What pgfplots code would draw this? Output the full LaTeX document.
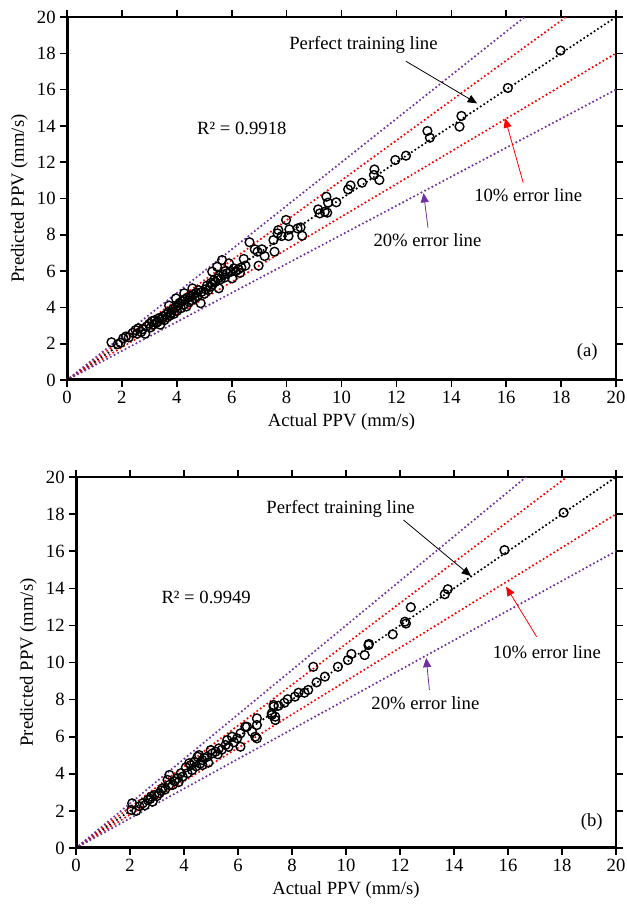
\documentclass[border=0pt]{standalone}
\usepackage{fontspec}
\setmainfont{Liberation Serif}
\usepackage{pgfplots}
\pgfplotsset{compat=1.18}
\usetikzlibrary{arrows.meta}
\definecolor{ppurple}{RGB}{112,48,160}
\definecolor{pblue}{RGB}{68,114,196}
\newcommand{\fs}{\fontsize{14}{16.5}\selectfont}
\pgfplotsset{
  ppv/.style={
    scale only axis,
    anchor=south west,
    xmin=0, xmax=20, ymin=0, ymax=20,
    xtick={0,2,...,20}, ytick={0,2,...,20},
    tick align=outside, major tick length=5pt,
    tick style={black, line width=1.2pt},
    axis line style={line width=1.2pt},
    /pgf/number format/assume math mode=true,
    tick label style={font=\fs},
    label style={font=\fs},
    xlabel={Actual PPV (mm/s)},
    ylabel={Predicted PPV (mm/s)},
    clip=true,
  },
  dotl/.style={line width=1.8pt, line cap=round, dash pattern=on 0pt off 3.1pt, no markers},
  pts/.style={only marks, mark=o, mark size=3.3pt, mark options={line width=1.05pt, black}},
}
\begin{document}
\begin{tikzpicture}
\useasboundingbox (0,0) rectangle (470.25pt,-681pt);
% ---------------- (a) ----------------
\begin{axis}[ppv, at={(50.25pt,-285pt)}, width=411.75pt, height=272.25pt]
\addplot[pts] table {
1.62 2.08
1.85 1.98
1.95 2.05
2.05 2.30
2.15 2.40
2.25 2.35
2.40 2.60
2.50 2.75
2.55 2.55
2.60 2.85
2.70 2.65
2.75 2.80
2.85 2.55
2.90 2.95
3.00 3.10
3.05 2.90
3.10 3.25
3.15 3.05
3.20 3.30
3.25 3.15
3.30 3.20
3.35 3.40
3.40 3.05
3.45 3.35
3.50 3.50
3.55 3.30
3.60 3.60
3.65 3.45
3.70 3.75
3.72 4.10
3.75 3.55
3.80 3.70
3.85 3.90
3.90 3.65
3.95 4.00
3.97 4.50
4.00 3.80
4.05 4.10
4.10 4.25
4.15 3.95
4.20 4.35
4.25 4.15
4.27 4.78
4.30 4.45
4.35 4.05
4.40 4.55
4.45 4.30
4.50 4.60
4.55 4.40
4.57 5.05
4.60 4.70
4.65 4.50
4.70 4.80
4.75 4.60
4.80 4.95
4.87 4.23
4.90 4.85
5.00 4.75
5.05 5.00
5.10 5.20
5.15 4.95
5.23 5.14
5.25 5.35
5.29 5.97
5.30 5.25
5.35 5.50
5.40 5.40
5.47 6.24
5.50 5.60
5.53 5.05
5.55 5.75
5.60 5.55
5.65 6.61
5.70 5.80
5.75 5.65
5.77 6.00
5.83 5.88
5.90 6.43
5.95 5.95
6.02 5.60
6.08 6.15
6.15 6.00
6.25 6.10
6.30 5.90
6.35 6.20
6.44 6.67
6.50 6.30
6.65 7.59
6.84 7.20
6.94 7.07
6.98 6.30
7.10 7.20
7.20 6.83
7.52 7.71
7.56 7.07
7.67 8.08
7.70 8.26
7.82 7.93
7.98 8.82
8.07 7.93
8.10 8.30
8.40 8.35
8.51 8.41
8.57 7.95
9.15 9.40
9.21 9.18
9.39 9.27
9.45 10.10
9.48 9.22
9.51 9.77
9.81 9.79
10.24 10.50
10.33 10.72
10.75 10.87
11.18 11.30
11.20 11.60
11.38 11.02
11.96 12.12
12.35 12.36
13.13 13.72
13.22 13.35
14.30 13.96
14.37 14.55
16.06 16.09
17.98 18.15
};
\addplot[dotl, black] coordinates {(0,0) (20,20)};
\addplot[dotl, red] coordinates {(0,0) (18.18,20)};
\addplot[dotl, red] coordinates {(0,0) (20,18)};
\addplot[dotl, ppurple] coordinates {(0,0) (16.67,20)};
\addplot[dotl, ppurple] coordinates {(0,0) (20,16)};
\draw[line width=2.3pt] (rel axis cs:0,1) -- (rel axis cs:0,0) -- (rel axis cs:1,0);
\node[font=\fs] at (axis cs:10.8,18.46) {Perfect training line};
\draw[black, line width=0.6pt, -{Triangle[length=7pt,width=6pt]}] (axis cs:12.34,17.57) -- (axis cs:14.94,15.24);
\node[font=\fs] at (axis cs:16.8,10.19) {10\% error line};
\draw[red, line width=0.6pt, -{Triangle[length=7pt,width=6pt]}] (axis cs:16.62,10.87) -- (axis cs:15.96,14.42);
\node[font=\fs] at (axis cs:13.13,7.71) {20\% error line};
\draw[ppurple, line width=0.6pt, -{Triangle[length=7pt,width=6pt]}] (axis cs:13.15,8.4) -- (axis cs:12.99,10.3);
\node[font=\fs] at (axis cs:6.37,13.88) {R² = 0.9918};
\node[font=\fs] at (axis cs:18.95,1.54) {(a)};
\end{axis}
% ---------------- (b) ----------------
\begin{axis}[ppv, at={(57pt,-636pt)}, width=405pt, height=278.25pt]
\addplot[pts] table {
2.05 2.05
2.08 2.41
2.23 2.00
2.35 2.25
2.47 2.41
2.55 2.30
2.66 2.59
2.75 2.65
2.78 2.77
2.84 2.50
2.90 2.85
3.00 2.80
3.09 2.95
3.15 3.10
3.21 3.22
3.30 3.15
3.39 3.67
3.45 3.40
3.46 3.94
3.58 3.40
3.65 3.60
3.76 3.76
3.80 3.55
3.88 4.03
3.95 3.85
4.07 4.35
4.13 4.03
4.19 4.57
4.25 4.47
4.30 4.20
4.38 4.65
4.45 4.40
4.50 4.92
4.56 5.01
4.60 4.55
4.68 4.74
4.68 4.47
4.75 4.85
4.86 4.92
4.90 4.60
4.99 5.28
5.05 5.10
5.17 5.19
5.25 5.05
5.29 5.37
5.40 5.30
5.54 5.55
5.60 5.82
5.65 5.45
5.78 6.00
5.85 5.70
5.97 5.91
6.09 6.18
6.09 5.46
6.27 6.54
6.33 6.54
6.52 6.27
6.64 6.00
6.70 6.99
6.70 6.63
6.70 5.91
7.25 7.26
7.25 7.17
7.32 7.71
7.32 7.62
7.38 7.08
7.38 6.90
7.50 7.67
7.72 7.83
7.84 8.02
8.11 8.16
8.24 8.37
8.46 8.37
8.60 8.52
8.79 9.77
8.91 8.93
9.22 9.24
9.70 9.77
10.07 10.13
10.20 10.46
10.69 10.40
10.83 10.94
10.85 11.00
11.73 11.52
12.18 12.20
12.22 12.10
12.40 12.98
13.66 13.68
13.77 13.95
15.87 16.06
18.06 18.08
};
\addplot[dotl, black] coordinates {(0,0) (20,20)};
\addplot[dotl, red] coordinates {(0,0) (18.18,20)};
\addplot[dotl, red] coordinates {(0,0) (20,18)};
\addplot[dotl, ppurple] coordinates {(0,0) (16.67,20)};
\addplot[dotl, ppurple] coordinates {(0,0) (20,16)};
\addplot[only marks, mark=diamond*, mark size=3.5pt, color=pblue, clip mode=individual] coordinates {(0,0)};
\draw[line width=2.3pt] (rel axis cs:0,1) -- (rel axis cs:0,0) -- (rel axis cs:1,0);
\node[font=\fs] at (axis cs:9.8,18.27) {Perfect training line};
\draw[black, line width=0.6pt, -{Triangle[length=7pt,width=6pt]}] (axis cs:12.13,17.68) -- (axis cs:14.63,14.66);
\node[font=\fs] at (axis cs:17.44,10.58) {10\% error line};
\draw[red, line width=0.6pt, -{Triangle[length=7pt,width=6pt]}] (axis cs:17.06,11.39) -- (axis cs:15.93,14.09);
\node[font=\fs] at (axis cs:12.94,7.82) {20\% error line};
\draw[ppurple, line width=0.6pt, -{Triangle[length=7pt,width=6pt]}] (axis cs:13.09,8.52) -- (axis cs:12.97,10.25);
\node[font=\fs] at (axis cs:4.82,13.53) {R² = 0.9949};
\node[font=\fs] at (axis cs:19.1,1.4) {(b)};
\end{axis}
\end{tikzpicture}
\end{document}
